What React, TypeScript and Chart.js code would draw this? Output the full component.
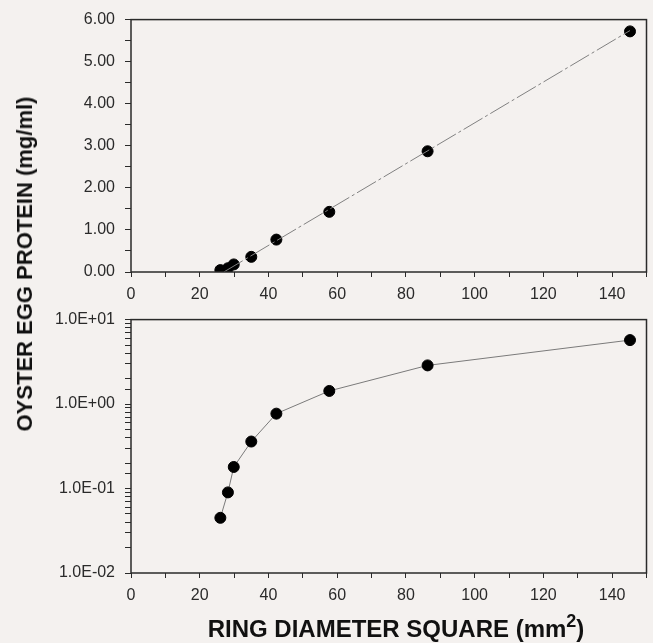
import React, { useEffect, useRef } from "react";
import { Chart, registerables } from "chart.js";

Chart.register(...registerables);

// Data
const ringDiameterSquare = [26.0, 28.2, 29.9, 35.0, 42.3, 57.7, 86.3, 145.2];
const eggProtein = [0.045, 0.09, 0.18, 0.36, 0.77, 1.43, 2.87, 5.72];
const fitX = [27.0, 145.2];
const fitY = [0.0, 5.74];
const linearYTicks = [0, 1, 2, 3, 4, 5, 6];
const logYTicks = [0.01, 0.1, 1, 10];
const xLabelTicks = [0, 20, 40, 60, 80, 100, 120, 140];

const BG = "#f4f1ef";
const INK = "#2a2a2a";
const FONT = "'Liberation Sans', Arial, sans-serif";

const framePlugin = {
  id: "frame",
  afterDraw(chart: any) {
    const { ctx, chartArea } = chart;
    ctx.save();
    ctx.strokeStyle = INK;
    ctx.lineWidth = 1.5;
    ctx.strokeRect(chartArea.left, chartArea.top, chartArea.right - chartArea.left, chartArea.bottom - chartArea.top);
    ctx.restore();
  },
};

function xScale(height: number) {
  return {
    type: "linear",
    min: 0,
    max: 150,
    border: { display: false },
    grid: { drawOnChartArea: false, drawTicks: true, tickLength: 5, color: INK, tickColor: INK },
    ticks: {
      stepSize: 10,
      autoSkip: false,
      maxRotation: 0,
      padding: 8,
      color: INK,
      font: { family: FONT, size: 16 },
      callback: (v: any) => (xLabelTicks.includes(Number(v)) ? String(v) : ""),
    },
    afterFit: (s: any) => {
      s.height = height;
      s.paddingRight = 0;
      s.paddingLeft = 0;
    },
  };
}

function App() {
  const topRef = useRef<HTMLCanvasElement>(null);
  const botRef = useRef<HTMLCanvasElement>(null);

  useEffect(() => {
    const points = ringDiameterSquare.map((x, i) => ({ x, y: eggProtein[i] }));
    const fit = fitX.map((x, i) => ({ x, y: fitY[i] }));

    const top = new Chart(topRef.current!, {
      type: "scatter",
      data: {
        datasets: [
          {
            data: fit,
            showLine: true,
            borderColor: "#808080",
            borderWidth: 1,
            borderDash: [22, 3, 3, 3],
            pointRadius: 0,
          },
          {
            data: points,
            showLine: false,
            backgroundColor: "#000",
            borderColor: "#000",
            pointRadius: 5.5,
          },
        ],
      },
      options: {
        animation: false,
        responsive: false,
        maintainAspectRatio: false,
        layout: { padding: { top: 17, right: 5, left: 0, bottom: 0 } },
        plugins: { legend: { display: false }, tooltip: { enabled: false } },
        scales: {
          x: xScale(28) as any,
          y: {
            type: "linear",
            min: 0,
            max: 6,
            border: { display: false },
            grid: { drawOnChartArea: false, drawTicks: true, tickLength: 6, color: INK, tickColor: INK },
            ticks: {
              stepSize: 0.5,
              autoSkip: false,
              padding: 10,
              color: INK,
              font: { family: FONT, size: 16 },
              callback: (v: any) => (linearYTicks.includes(Number(v)) ? Number(v).toFixed(2) : ""),
            },
            afterFit: (s: any) => {
              s.width = 131;
            },
          },
        },
      },
      plugins: [framePlugin],
    } as any);

    const bot = new Chart(botRef.current!, {
      type: "scatter",
      data: {
        datasets: [
          {
            data: points,
            showLine: true,
            borderColor: "#7a7a7a",
            borderWidth: 1,
            backgroundColor: "#000",
            pointBorderColor: "#000",
            pointBackgroundColor: "#000",
            pointRadius: 5.5,
          },
        ],
      },
      options: {
        animation: false,
        responsive: false,
        maintainAspectRatio: false,
        layout: { padding: { top: 19, right: 5, left: 0, bottom: 0 } },
        plugins: { legend: { display: false }, tooltip: { enabled: false } },
        scales: {
          x: xScale(70) as any,
          y: {
            type: "logarithmic",
            min: 0.01,
            max: 10,
            border: { display: false },
            grid: { drawOnChartArea: false, drawTicks: true, tickLength: 6, color: INK, tickColor: INK },
            ticks: {
              autoSkip: false,
              padding: 10,
              color: INK,
              font: { family: FONT, size: 16 },
              callback: (v: any) => {
                const n = Number(v);
                const hit = logYTicks.find((t) => Math.abs(t - n) / t < 1e-6);
                if (hit === undefined) return "";
                const e = Math.round(Math.log10(hit));
                return "1.0E" + (e < 0 ? "-" : "+") + String(Math.abs(e)).padStart(2, "0");
              },
            },
            afterFit: (s: any) => {
              s.width = 131;
            },
          },
        },
      },
      plugins: [framePlugin],
    } as any);

    return () => {
      top.destroy();
      bot.destroy();
    };
  }, []);

  return (
    <div
      style={{
        position: "absolute",
        left: 0,
        top: 0,
        width: 653,
        height: 643,
        background: BG,
        overflow: "hidden",
        fontFamily: FONT,
      }}
    >
      <canvas ref={topRef} width={653} height={300} style={{ position: "absolute", left: 0, top: 0, width: 653, height: 300 }} />
      <canvas ref={botRef} width={653} height={343} style={{ position: "absolute", left: 0, top: 300, width: 653, height: 343 }} />
      <div
        style={{
          position: "absolute",
          left: 25,
          top: 264,
          transform: "translate(-50%, -50%) rotate(-90deg)",
          whiteSpace: "nowrap",
          fontWeight: "bold",
          fontSize: 22,
          color: "#111",
          lineHeight: 1,
        }}
      >
        OYSTER EGG PROTEIN (mg/ml)
      </div>
      <div
        style={{
          position: "absolute",
          left: 396,
          top: 629,
          transform: "translate(-50%, -50%)",
          whiteSpace: "nowrap",
          fontWeight: "bold",
          fontSize: 24,
          color: "#111",
          lineHeight: 1,
        }}
      >
        RING DIAMETER SQUARE (mm<sup style={{ fontSize: "0.75em", lineHeight: 0, verticalAlign: "0.55em" }}>2</sup>)
      </div>
    </div>
  );
}

export default App;
